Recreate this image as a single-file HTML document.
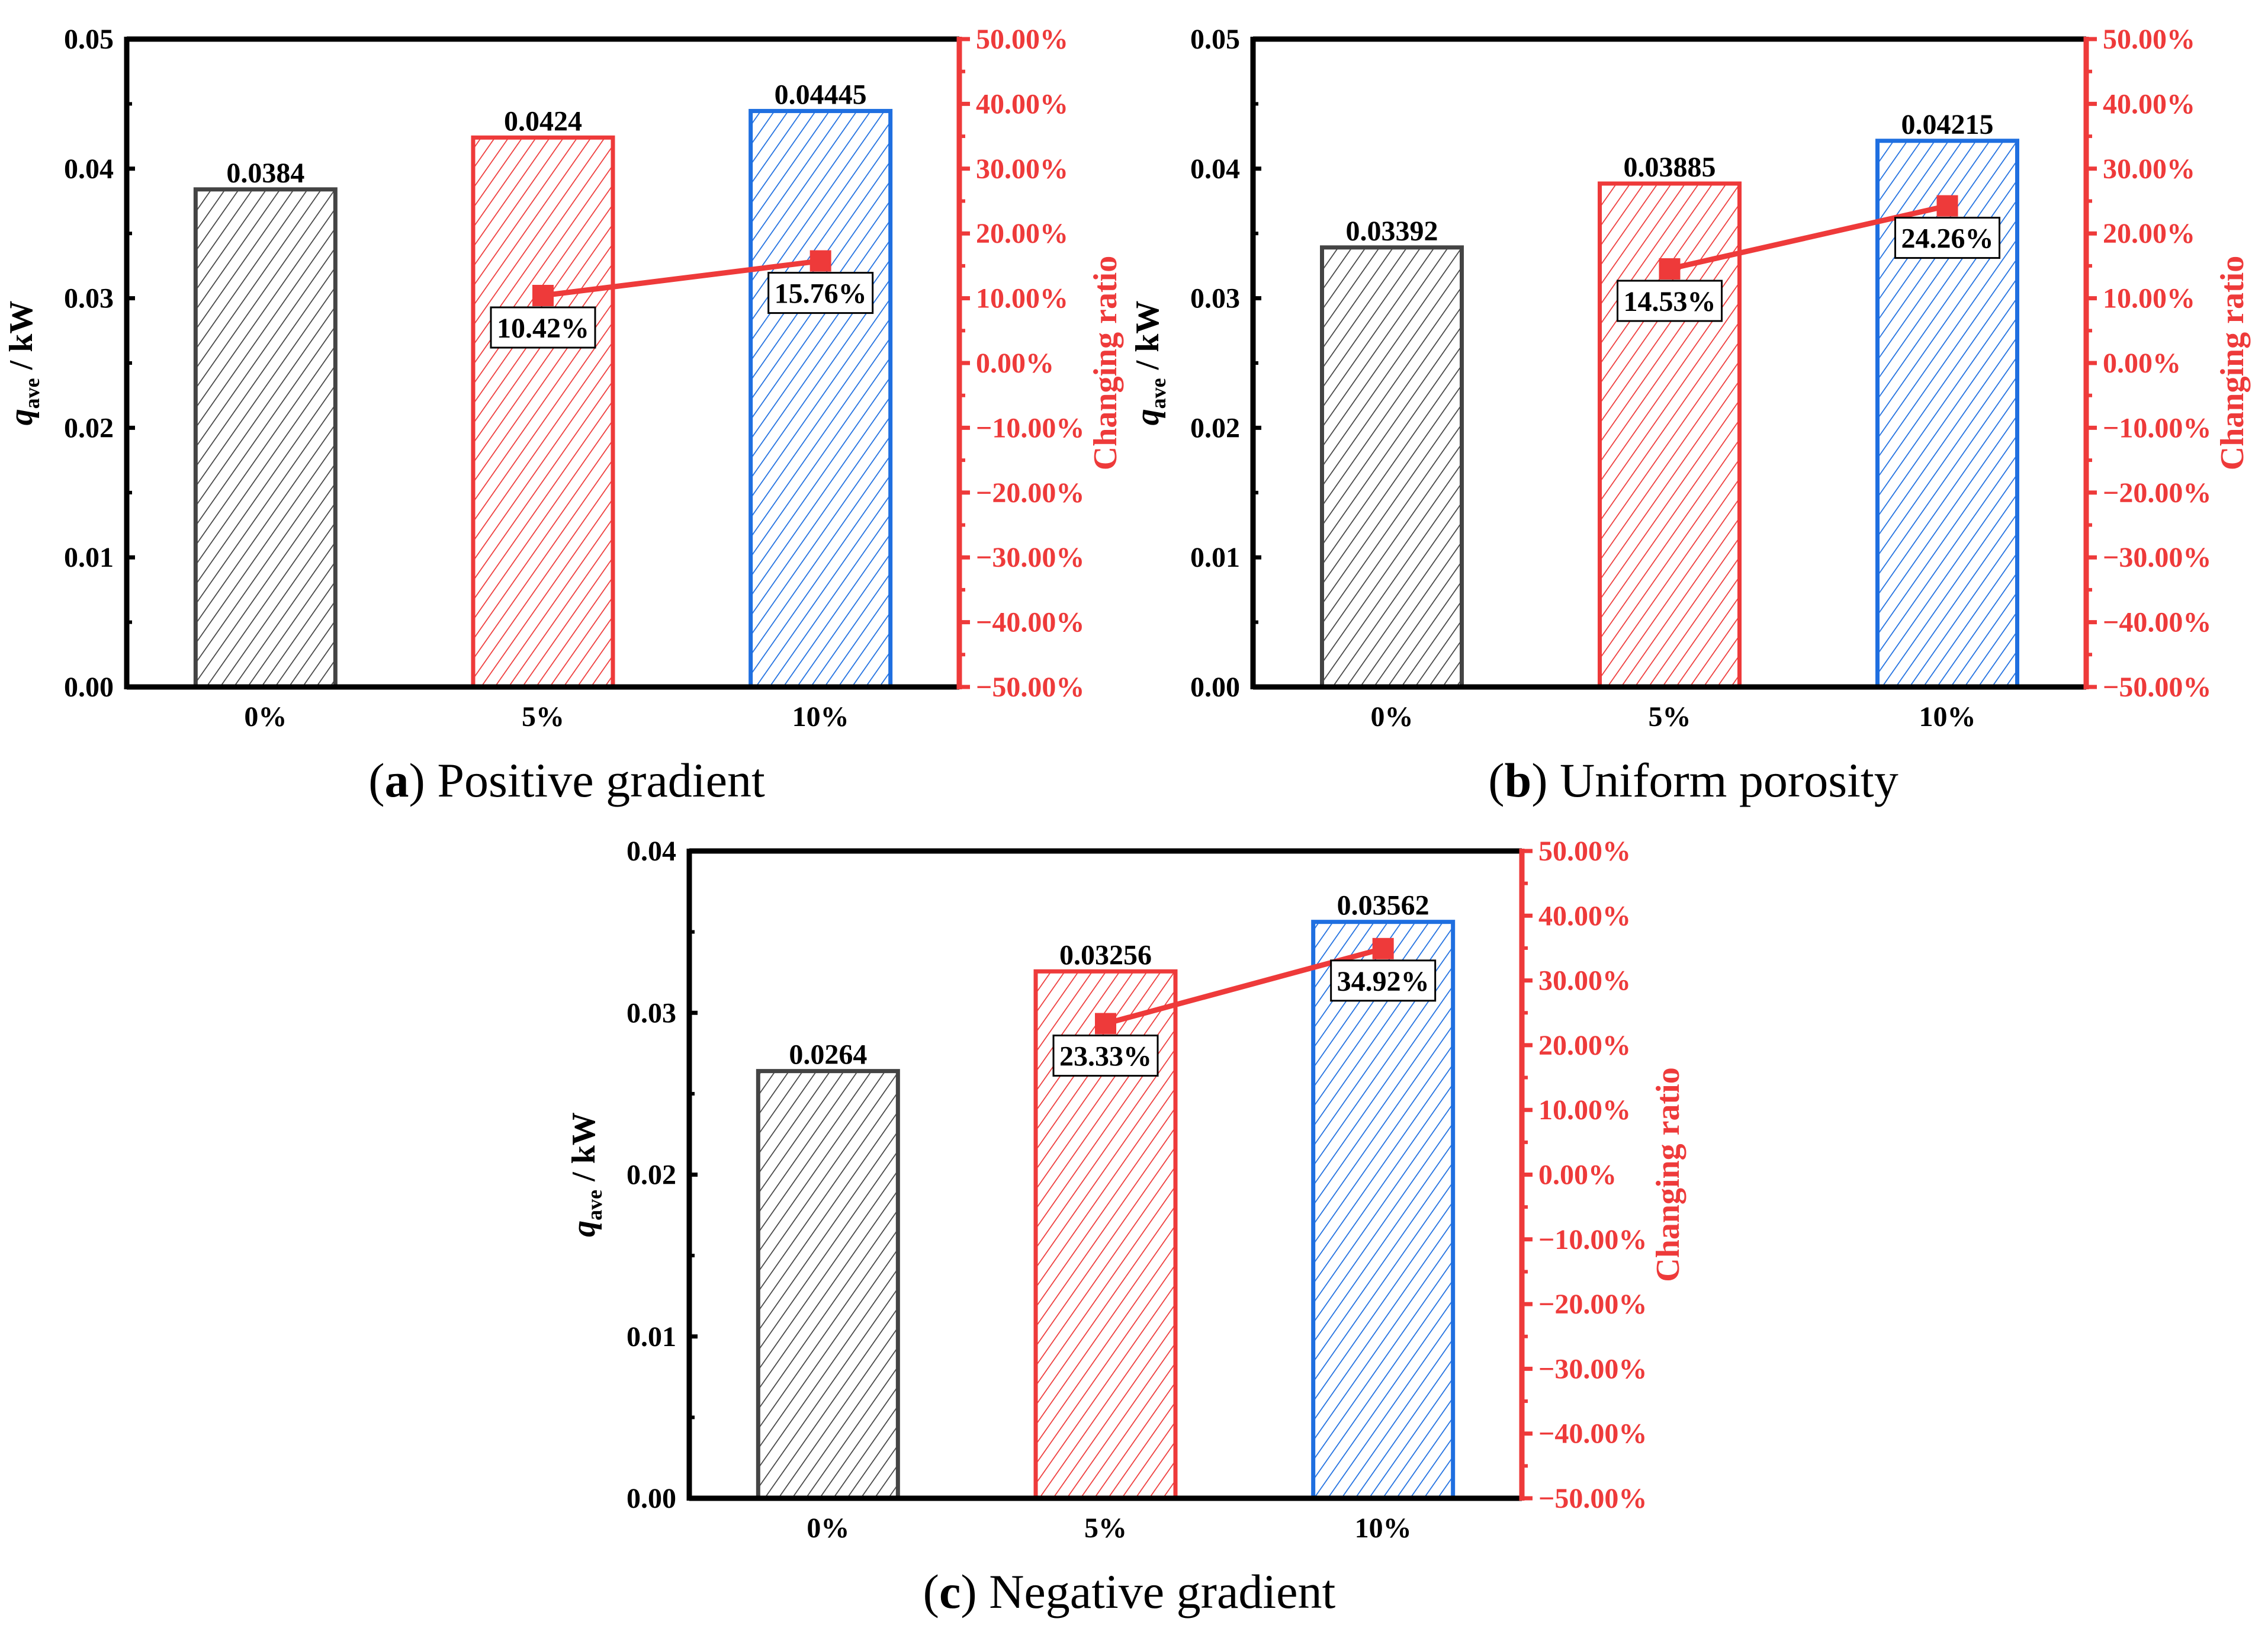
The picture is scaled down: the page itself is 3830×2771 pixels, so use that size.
<!DOCTYPE html>
<html><head><meta charset="utf-8"><style>
html,body{margin:0;padding:0;background:#fff;}
svg{display:block;font-family:"Liberation Serif",serif;}
</style></head><body>
<svg id="fig" width="3830" height="2771" viewBox="0 0 3830 2771" xmlns="http://www.w3.org/2000/svg">
<defs>
<pattern id="hg" patternUnits="userSpaceOnUse" width="19" height="19" patternTransform="rotate(35)"><line x1="0" y1="0" x2="0" y2="19" stroke="#444" stroke-width="3.5"/></pattern>
<pattern id="hr" patternUnits="userSpaceOnUse" width="19" height="19" patternTransform="rotate(35)"><line x1="0" y1="0" x2="0" y2="19" stroke="#ee3a3a" stroke-width="3.5"/></pattern>
<pattern id="hb" patternUnits="userSpaceOnUse" width="19" height="19" patternTransform="rotate(35)"><line x1="0" y1="0" x2="0" y2="19" stroke="#1f6fe0" stroke-width="3.5"/></pattern>
</defs>
</svg>
<script>
const categories = ["0%","5%","10%"];
const valuesA = [0.0384, 0.0424, 0.04445];
const valuesB = [0.03392, 0.03885, 0.04215];
const valuesC = [0.0264, 0.03256, 0.03562];
const ratioA = [null, 10.42, 15.76];
const ratioB = [null, 14.53, 24.26];
const ratioC = [null, 23.33, 34.92];
const labelsA = ["0.0384","0.0424","0.04445"];
const labelsB = ["0.03392","0.03885","0.04215"];
const labelsC = ["0.0264","0.03256","0.03562"];
const leftTicks5 = [0,0.01,0.02,0.03,0.04,0.05];
const leftTicks4 = [0,0.01,0.02,0.03,0.04];
const rightTicks = [-50,-40,-30,-20,-10,0,10,20,30,40,50];

const NS="http://www.w3.org/2000/svg";
const svg=document.getElementById('fig');
const RED="#ee3a3a", BLUE="#1f6fe0", GRAY="#444";
function mk(tag,attrs,parent){const e=document.createElementNS(NS,tag);for(const k in attrs)e.setAttribute(k,attrs[k]);(parent||svg).appendChild(e);return e;}

function panel(id,L,R,T,B,ymax,ticks,tickFmt,vals,labs,ratios,caption,capLetter){
  const g=mk('g',{});
  
  
  const y=v=>B-(v/ymax)*(B-T);
  const yr=v=>B-((v+50)/100)*(B-T);
  const step=(R-L)/3;
  const x=i=>L+step*(i+0.5);
  const bw=236;
  const fills=['url(#hg)','url(#hr)','url(#hb)'], strokes=[GRAY,RED,BLUE];
  vals.forEach((v,i)=>{
    const r=mk('rect',{x:x(i)-bw/2,y:y(v),width:bw,height:B-y(v),fill:fills[i],stroke:strokes[i],'stroke-width':7},g);
    
    
    const t=mk('text',{x:x(i),y:y(v)-12,'text-anchor':'middle','font-size':48,'font-weight':'bold',fill:'#000'},g);
    t.textContent=labs[i];
    
    
  });
  mk('line',{x1:L,y1:T,x2:R,y2:T,stroke:'#000','stroke-width':9},g);
  mk('line',{x1:L,y1:B,x2:R,y2:B,stroke:'#000','stroke-width':9},g);
  const la=mk('line',{x1:L,y1:T-4,x2:L,y2:B+4,stroke:'#000','stroke-width':9},g);
  
  
  const ra=mk('line',{x1:R,y1:T-4,x2:R,y2:B+4,stroke:RED,'stroke-width':9},g);
  
  
  ticks.forEach((v,i)=>{
    mk('line',{x1:L,y1:y(v),x2:L+14,y2:y(v),stroke:'#000','stroke-width':7},g);
    if(i<ticks.length-1){const m=(v+ticks[i+1])/2;mk('line',{x1:L,y1:y(m),x2:L+9,y2:y(m),stroke:'#000','stroke-width':6},g);}
    const t=mk('text',{x:L-22,y:y(v)+16,'text-anchor':'end','font-size':48,'font-weight':'bold'},g);
    t.textContent=v.toFixed(tickFmt);
    
    
  });
  rightTicks.forEach((v,i)=>{
    mk('line',{x1:R,y1:yr(v),x2:R+18,y2:yr(v),stroke:RED,'stroke-width':7},g);
    if(i<rightTicks.length-1){const m=v+5;mk('line',{x1:R,y1:yr(m),x2:R+10,y2:yr(m),stroke:RED,'stroke-width':6},g);}
    const t=mk('text',{x:R+28,y:yr(v)+16,'font-size':48,'font-weight':'bold',fill:RED},g);
    t.textContent=(v<0?'\u2212'+(-v).toFixed(2):v.toFixed(2))+'%';
    
    
  });
  categories.forEach((c,i)=>{
    const t=mk('text',{x:x(i),y:B+66,'text-anchor':'middle','font-size':48,'font-weight':'bold'},g);
    t.textContent=c;
    
    
  });
  const pts=[];ratios.forEach((r,i)=>{if(r!==null)pts.push([x(i),yr(r),r]);});
  const pl=mk('polyline',{points:pts.map(p=>p[0]+','+p[1]).join(' '),fill:'none',stroke:RED,'stroke-width':9},g);
  
  
  pts.forEach(p=>{
    const m=mk('rect',{x:p[0]-18,y:p[1]-18,width:36,height:36,fill:RED},g);
    
    
    const bx=mk('rect',{x:p[0]-88,y:p[1]+20,width:176,height:68,fill:'#fff',stroke:'#000','stroke-width':3},g);
    
    
    const t=mk('text',{x:p[0],y:p[1]+71,'text-anchor':'middle','font-size':48,'font-weight':'bold'},g);
    t.textContent=p[2].toFixed(2)+'%';
    
    
  });
  const cy=(T+B)/2;
  const yt=mk('text',{x:0,y:0,'text-anchor':'middle','font-size':56,'font-weight':'bold',transform:`translate(${L-160},${cy}) rotate(-90)`},g);
  yt.innerHTML='<tspan font-style="italic">q</tspan><tspan font-size="36" dy="12">ave</tspan><tspan dy="-12"> / kW</tspan>';
  
  
  const rt=mk('text',{x:0,y:0,'text-anchor':'middle','font-size':56,'font-weight':'bold',fill:RED,transform:`translate(${R+265},${cy}) rotate(-90)`},g);
  rt.textContent='Changing ratio';
  
  
  const ct=mk('text',{x:(L+R)/2+40,y:B+185,'text-anchor':'middle','font-size':82},g);
  ct.innerHTML='(<tspan font-weight="bold">'+capLetter+'</tspan>) '+caption;
  
  
}
panel('a',214,1620,66,1160,0.05,leftTicks5,2,valuesA,labelsA,ratioA,'Positive gradient','a');
panel('b',2116,3523,66,1160,0.05,leftTicks5,2,valuesB,labelsB,ratioB,'Uniform porosity','b');
panel('c',1164,2570,1437,2530,0.04,leftTicks4,2,valuesC,labelsC,ratioC,'Negative gradient','c');
</script>
</body></html>
